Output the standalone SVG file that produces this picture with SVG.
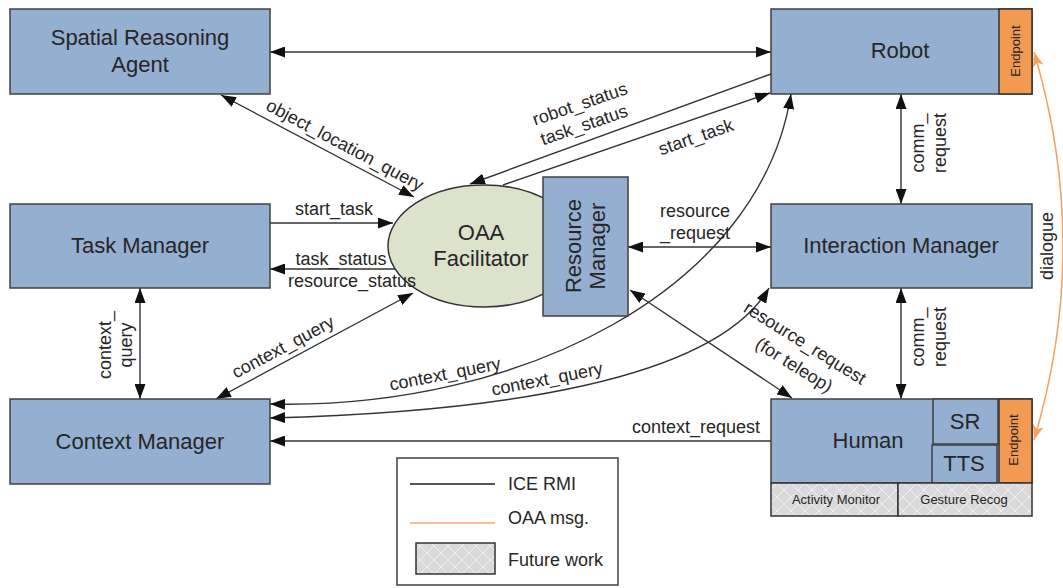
<svg xmlns="http://www.w3.org/2000/svg" width="1063" height="588" viewBox="0 0 1063 588">
  <style>
    .box { fill: #95AFD0; stroke: #404040; stroke-width: 1.5; }
    .ep { fill: #F39A52; stroke: #333333; stroke-width: 1.5; }
    .fut { fill: url(#hatch); stroke: #333333; stroke-width: 1.5; }
    .t { font-family: "Liberation Sans", Arial, sans-serif; fill: #262626; text-anchor: middle; }
    .big { font-size: 22px; }
    .cl { font-size: 18px; }
    .sm { font-size: 13px; }
    .conn path { fill: none; stroke: #333333; stroke-width: 1.4; }
    .conn path.oaa { stroke: #F5A060; stroke-width: 1.5; }
  </style>
  <defs>
    <marker id="ah" viewBox="0 0 15 11" refX="15" refY="5.5" markerWidth="15" markerHeight="11" markerUnits="userSpaceOnUse" orient="auto-start-reverse">
      <path d="M0,0 L15,5.5 L0,11 z" fill="#111111"/>
    </marker>
    <marker id="ao" viewBox="0 0 15 11" refX="15" refY="5.5" markerWidth="15" markerHeight="11" markerUnits="userSpaceOnUse" orient="auto-start-reverse">
      <path d="M0,0 L15,5.5 L0,11 L4,5.5 z" fill="#F5A060"/>
    </marker>
    <pattern id="hatch" width="14" height="14" patternUnits="userSpaceOnUse">
      <rect width="14" height="14" fill="#D9D9D9"/>
      <path d="M0,0 L14,14 M14,0 L0,14" stroke="#EFEFEF" stroke-width="1"/>
    </pattern>
  </defs>

  <rect width="1063" height="588" fill="#FFFFFF"/>

  <!-- connectors -->
  <g id="connectors" class="conn">
    <path d="M270,52 H771" marker-start="url(#ah)" marker-end="url(#ah)"/>
    <path d="M221,95 L414,197" marker-start="url(#ah)" marker-end="url(#ah)"/>
    <path d="M771,74 L470,184" marker-end="url(#ah)"/>
    <path d="M503,185 L770,93" marker-end="url(#ah)"/>
    <path d="M270,223 H393" marker-end="url(#ah)"/>
    <path d="M395,269 H270" marker-end="url(#ah)"/>
    <path d="M140,288 V399" marker-start="url(#ah)" marker-end="url(#ah)"/>
    <path d="M216,399 L413,293" marker-start="url(#ah)" marker-end="url(#ah)"/>
    <path d="M270,404 C520,410 760,290 791,94" marker-start="url(#ah)" marker-end="url(#ah)"/>
    <path d="M270,418 C500,412 715,380 769,288" marker-start="url(#ah)" marker-end="url(#ah)"/>
    <path d="M628,247 H771" marker-start="url(#ah)" marker-end="url(#ah)"/>
    <path d="M630,290 L792,398" marker-start="url(#ah)" marker-end="url(#ah)"/>
    <path d="M901,94 V204" marker-start="url(#ah)" marker-end="url(#ah)"/>
    <path d="M901,288 V399" marker-start="url(#ah)" marker-end="url(#ah)"/>
    <path d="M771,441 H270" marker-end="url(#ah)"/>
    <path class="oaa" d="M1034,52 Q1092,246 1034,440" marker-start="url(#ao)" marker-end="url(#ao)"/>
  </g>

  <!-- nodes -->
  <g id="spatial-reasoning-agent">
    <rect class="box" x="10" y="9" width="260" height="85"/>
    <text class="t big" x="140" y="45">Spatial Reasoning</text>
    <text class="t big" x="140" y="72">Agent</text>
  </g>

  <g id="robot">
    <rect class="box" x="771" y="9" width="261" height="85"/>
    <rect class="ep" x="999" y="9" width="33" height="85"/>
    <text class="t big" x="900" y="58">Robot</text>
    <text class="t sm" transform="translate(1020,51) rotate(-90)">Endpoint</text>
  </g>

  <g id="task-manager">
    <rect class="box" x="10" y="204" width="260" height="84"/>
    <text class="t big" x="140" y="253">Task Manager</text>
  </g>

  <g id="oaa-facilitator">
    <ellipse cx="484" cy="246" rx="96" ry="61" fill="#DDE2CA" stroke="#333333" stroke-width="1.5"/>
    <text class="t big" x="481" y="240">OAA</text>
    <text class="t big" x="481" y="266">Facilitator</text>
  </g>

  <g id="resource-manager">
    <rect class="box" x="543" y="177" width="85" height="139"/>
    <g transform="translate(585,246) rotate(-90)">
      <text class="t big" x="0" y="-4">Resource</text>
      <text class="t big" x="0" y="20">Manager</text>
    </g>
  </g>

  <g id="interaction-manager">
    <rect class="box" x="771" y="204" width="261" height="84"/>
    <text class="t big" x="901" y="253">Interaction Manager</text>
  </g>

  <g id="context-manager">
    <rect class="box" x="10" y="399" width="260" height="85"/>
    <text class="t big" x="140" y="449">Context Manager</text>
  </g>

  <g id="human">
    <rect class="box" x="771" y="399" width="261" height="84"/>
    <text class="t big" x="868" y="448">Human</text>
    <rect class="box" x="933" y="399" width="65" height="45"/>
    <text class="t big" x="965" y="429">SR</text>
    <rect class="box" x="932" y="445" width="65" height="38"/>
    <text class="t big" x="964" y="471">TTS</text>
    <rect class="ep" x="999" y="399" width="33" height="84"/>
    <text class="t sm" transform="translate(1018,440) rotate(-90)">Endpoint</text>
    <rect class="fut" x="771" y="483" width="127" height="33"/>
    <text class="t sm" x="836" y="504">Activity Monitor</text>
    <rect class="fut" x="898" y="483" width="134" height="33"/>
    <text class="t sm" x="964" y="504">Gesture Recog</text>
  </g>

  <!-- connector labels, drawn on top of the shapes -->
  <g id="connector-labels">
    <text class="t cl" transform="translate(345,145) rotate(28)" y="6">object_location_query</text>
    <text class="t cl" transform="translate(580,104) rotate(-19)" y="6">robot_status</text>
    <text class="t cl" transform="translate(584,125) rotate(-19)" y="6">task_status</text>
    <text class="t cl" transform="translate(696,137) rotate(-19)" y="6">start_task</text>
    <text class="t cl" x="334" y="215">start_task</text>
    <text class="t cl" x="341" y="265">task_status</text>
    <text class="t cl" x="352" y="287">resource_status</text>
    <g transform="translate(0,345) rotate(-90)">
      <text class="t cl" x="0" y="111">context_</text>
      <text class="t cl" x="0" y="132">query</text>
    </g>
    <text class="t cl" transform="translate(283,347) rotate(-28)" y="6">context_query</text>
    <text class="t cl" transform="translate(445,374) rotate(-11)" y="6">context_query</text>
    <text class="t cl" transform="translate(547,379) rotate(-11)" y="6">context_query</text>
    <text class="t cl" x="695" y="217">resource</text>
    <text class="t cl" x="695" y="239">_request</text>
    <text class="t cl" transform="translate(805,343) rotate(32)" y="6">resource_request</text>
    <text class="t cl" transform="translate(794,365) rotate(32)" y="6">(for teleop)</text>
    <g transform="translate(0,143) rotate(-90)">
      <text class="t cl" x="0" y="924">comm_</text>
      <text class="t cl" x="0" y="946">request</text>
    </g>
    <g transform="translate(0,337) rotate(-90)">
      <text class="t cl" x="0" y="924">comm_</text>
      <text class="t cl" x="0" y="946">request</text>
    </g>
    <text class="t cl" x="696" y="433">context_request</text>
    <text class="t cl" transform="translate(1053,246) rotate(-90)">dialogue</text>
  </g>

  <g id="legend">
    <rect x="397" y="458" width="221" height="127" fill="#FFFFFF" stroke="#404040" stroke-width="1.5"/>
    <path d="M410,484 H495" stroke="#555555" stroke-width="2"/>
    <text class="t cl" x="508" y="490" style="text-anchor:start">ICE RMI</text>
    <path d="M410,523 H495" stroke="#F9A76A" stroke-width="1.5"/>
    <text class="t cl" x="508" y="524" style="text-anchor:start">OAA msg.</text>
    <rect class="fut" x="416" y="543" width="79" height="31"/>
    <text class="t cl" x="508" y="566" style="text-anchor:start">Future work</text>
  </g>
</svg>
